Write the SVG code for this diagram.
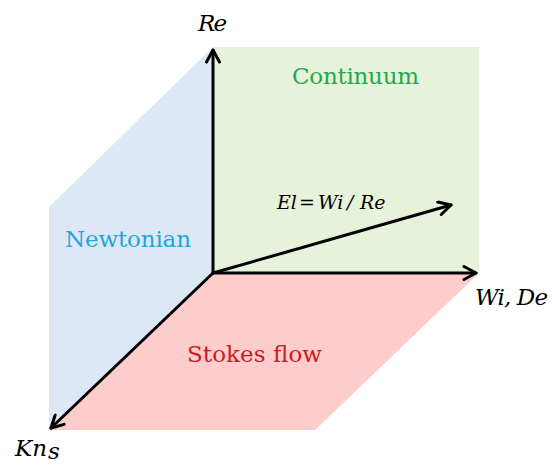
<svg xmlns="http://www.w3.org/2000/svg" width="552" height="466" viewBox="0 0 552 466">
<style>
.ax{stroke:#000;stroke-width:3;fill:none;stroke-linecap:round;stroke-linejoin:round}
.m{font-family:'DejaVu Serif',serif;font-style:italic;font-size:23px;fill:#000}
.e{font-family:'DejaVu Serif',serif;font-style:italic;font-size:19px;fill:#000}
.lbl{font-family:'DejaVu Serif',serif;font-size:23px}
</style>
<defs>
<marker id="ah" markerWidth="16" markerHeight="16" viewBox="-14 -8 16 16" refX="0" refY="0" orient="auto" markerUnits="userSpaceOnUse">
<path d="M-12,-6.5 L0,0 L-12,6.5" fill="none" stroke="#000" stroke-width="3" stroke-linecap="round" stroke-linejoin="round"/>
</marker>
</defs>
<rect width="552" height="466" fill="#fff"/>
<g id="planes">
<polygon id="continuum-plane" points="213,47 479,47 479,273 213,273" fill="#e6f2da"/>
<polygon id="newtonian-plane" points="213,47 49,207 49,430 213,273" fill="#dce8f5"/>
<polygon id="stokes-plane" points="213,273 479,273 315,430 49,430" fill="#ffcccc"/>
</g>
<g id="connectors">
<line class="ax" x1="213" y1="273" x2="213" y2="50" marker-end="url(#ah)"/>
<line class="ax" x1="213" y1="273" x2="476" y2="273" marker-end="url(#ah)"/>
<line class="ax" x1="213" y1="273" x2="51" y2="428" marker-end="url(#ah)"/>
<line class="ax" x1="213" y1="273" x2="451" y2="205" marker-end="url(#ah)"/>
</g>
<g id="labels">
<text class="m" x="198" y="31" textLength="29">Re</text>
<text class="m" x="475" y="305" textLength="73">Wi, De</text>
<text class="m" x="15" y="456" textLength="32">Kn</text>
<text class="m" x="48" y="459" font-size="11">s</text>
<text class="e" x="277" y="209">El</text>
<text class="e" x="299" y="209" font-style="normal">=</text>
<text class="e" x="318" y="209">Wi</text>
<text class="e" x="347" y="209">/</text>
<text class="e" x="360" y="209">Re</text>
</g>
<g id="n-continuum"><text class="lbl" x="292" y="84" textLength="127" fill="#22a94f">Continuum</text></g>
<g id="n-newtonian"><text class="lbl" x="65" y="247" textLength="126" fill="#1fa6df">Newtonian</text></g>
<g id="n-stokes"><text class="lbl" x="187" y="362" textLength="135" fill="#cc1a22">Stokes flow</text></g>
</svg>
